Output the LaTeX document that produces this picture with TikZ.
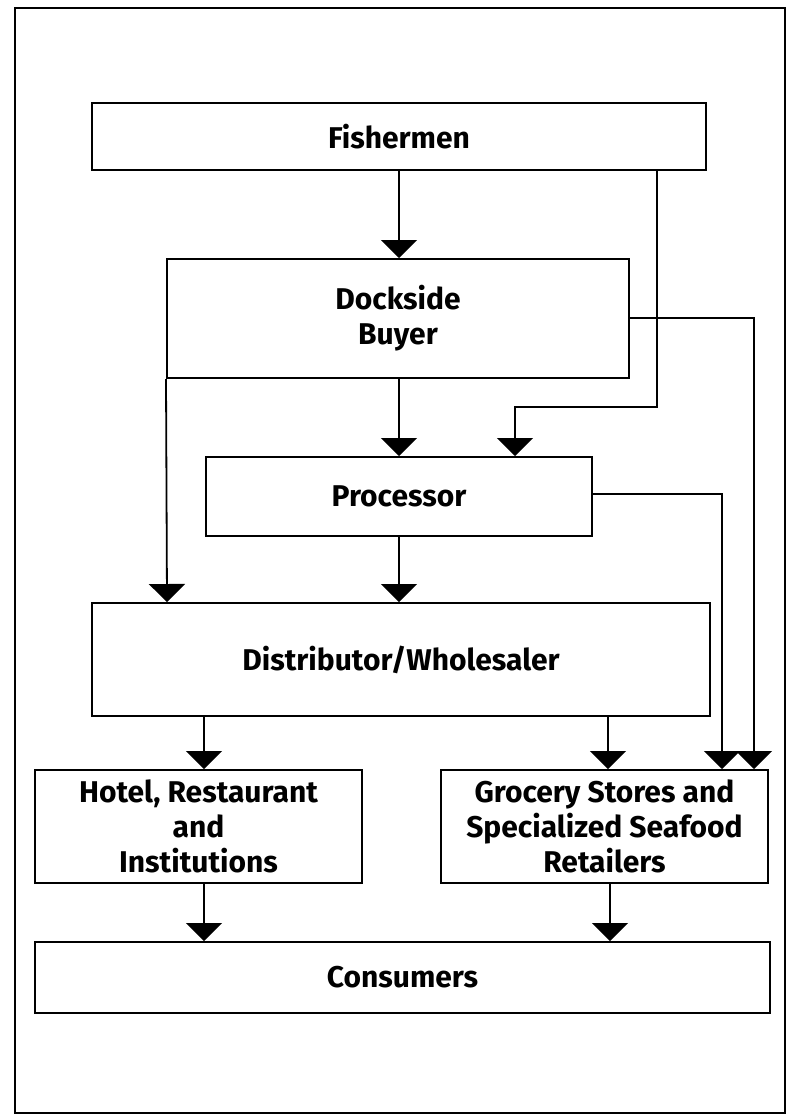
\documentclass[tikz,border=0pt]{standalone}
\usepackage{fontspec}
\setmainfont{Fira Sans}
\usetikzlibrary{arrows.meta}
\begin{document}
\begin{tikzpicture}[x=1pt,y=-1pt,
  box/.style={draw,line width=2pt,inner sep=0pt,align=center,
    font=\fontsize{30}{35}\selectfont\bfseries},
  arr/.style={line width=1.8pt,-{Triangle[width=36pt,length=18pt]}}]
\useasboundingbox (0,0) rectangle (788,1117);
\draw[line width=2pt] (15,8) rectangle (785,1113);
\node[box,minimum width=614pt,minimum height=67pt] (fish) at (399,136.5) {Fishermen};
\node[box,minimum width=462pt,minimum height=119pt] (dock) at (398,318.5) {Dockside\\Buyer};
\node[box,minimum width=386pt,minimum height=79pt] (proc) at (399,496.5) {Processor};
\node[box,minimum width=618pt,minimum height=113pt] (dist) at (401,659.5) {Distributor/Wholesaler};
\node[box,minimum width=327pt,minimum height=113pt] (hotel) at (198.5,826.5) {Hotel, Restaurant\\and\\Institutions};
\node[box,minimum width=327pt,minimum height=113pt] (groc) at (604.5,826.5) {Grocery Stores and\\Specialized Seafood\\Retailers};
\node[box,minimum width=735pt,minimum height=71pt] (cons) at (402.5,977.5) {Consumers};
\coordinate (xa) at (399,0);
\coordinate (xb) at (657,0);
\coordinate (xc) at (515,0);
\coordinate (xd) at (754,0);
\coordinate (xe) at (167,0);
\coordinate (xf) at (722,0);
\coordinate (xg) at (204,0);
\coordinate (xh) at (608,0);
\coordinate (xi) at (610,0);
\coordinate (ya) at (0,318);
\coordinate (yb) at (0,407);
\coordinate (yc) at (0,494);
% Fishermen
\draw[arr] (fish.south -| xa) -- (dock.north -| xa);
\draw[arr] (fish.south -| xb) |- (yb -| xc) -- (proc.north -| xc);
% Dockside
\draw[arr] (dock.east |- ya) -| (groc.north -| xd);
\draw[arr] (dock.south -| xa) -- (proc.north -| xa);
\draw[arr] (dock.south west) -- (dist.north -| xe);
% Processor
\draw[arr] (proc.south -| xa) -- (dist.north -| xa);
\draw[arr] (proc.east |- yc) -| (groc.north -| xf);
% Distributor
\draw[arr] (dist.south -| xg) -- (hotel.north -| xg);
\draw[arr] (dist.south -| xh) -- (groc.north -| xh);
% to consumers
\draw[arr] (hotel.south -| xg) -- (cons.north -| xg);
\draw[arr] (groc.south -| xi) -- (cons.north -| xi);
\end{tikzpicture}
\end{document}
